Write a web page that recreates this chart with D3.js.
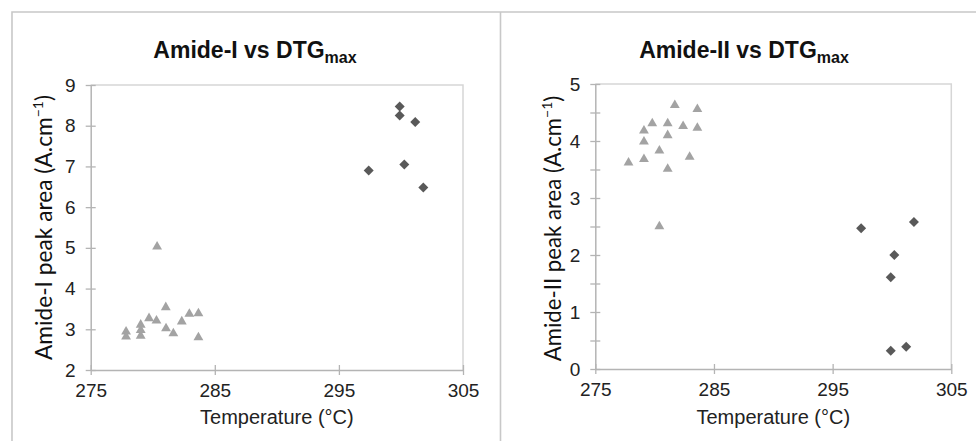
<!DOCTYPE html>
<html>
<head>
<meta charset="utf-8">
<script src="https://cdn.jsdelivr.net/npm/d3@7"></script>
<style>
  html, body { margin: 0; padding: 0; background: #fff; }
  svg { display: block; }
</style>
</head>
<body>
<div id="chart"></div>
<script>
const xTicks = [275, 285, 295, 305];

// Amide-I panel
const amideIYTicks = [2, 3, 4, 5, 6, 7, 8, 9];
const amideITriTemp = [277.85, 277.85, 279.03, 279.03, 279.03, 279.7, 280.3, 280.35, 281.05, 281.07, 281.66, 282.34, 282.95, 283.68, 283.68];
const amideITriArea = [2.94, 2.82, 3.11, 2.98, 2.84, 3.27, 3.21, 5.03, 3.54, 3.02, 2.9, 3.19, 3.38, 3.39, 2.8];
const amideIDiaTemp = [297.4, 299.9, 299.9, 301.15, 300.27, 301.8];
const amideIDiaArea = [6.9, 8.47, 8.25, 8.09, 7.05, 6.48];

// Amide-II panel
const amideIIYTicks = [0, 1, 2, 3, 4, 5];
const amideIIMinorTicks = [0.5, 1.5, 2.5, 3.5, 4.5];
const amideIITriTemp = [277.8, 279.1, 279.1, 279.1, 279.8, 280.4, 280.4, 281.1, 281.1, 281.1, 281.7, 282.4, 282.95, 283.6, 283.6];
const amideIITriArea = [3.62, 3.68, 3.99, 4.18, 4.31, 3.83, 2.5, 4.31, 4.1, 3.51, 4.63, 4.26, 3.72, 4.56, 4.23];
const amideIIDiaTemp = [297.4, 301.85, 300.2, 299.9, 299.9, 301.2];
const amideIIDiaArea = [2.47, 2.58, 2.0, 1.61, 0.32, 0.39];

const W = 976, H = 441;
const axisCol = '#b4b4b4', frameCol = '#d6d6d6', textCol = '#222';
const triCol = '#a3a3a3', diaCol = '#595959';
const sansFont = '"Liberation Sans", Arial, sans-serif';

const svg = d3.select('#chart').append('svg').attr('width', W).attr('height', H);

// outer panel frame + divider
svg.append('path')
  .attr('d', `M12,${H}V12H${W} M500.5,12V${H}`)
  .attr('fill', 'none').attr('stroke', '#c8c8c8').attr('stroke-width', 1.6);

const panels = [
  { title: 'Amide-I vs DTG', ylab: 'Amide-I peak area (A.cm', yDomain: [2, 9], yTicks: amideIYTicks, minor: [],
    triT: amideITriTemp, triA: amideITriArea, diaT: amideIDiaTemp, diaA: amideIDiaArea,
    box: { l: 90.7, r: 463, t: 85, b: 370 }, titleX: 255, ylabX: 52, ylabY: 227.5 },
  { title: 'Amide-II vs DTG', ylab: 'Amide-II peak area (A.cm', yDomain: [0, 5], yTicks: amideIIYTicks, minor: amideIIMinorTicks,
    triT: amideIITriTemp, triA: amideIITriArea, diaT: amideIIDiaTemp, diaA: amideIIDiaArea,
    box: { l: 595.3, r: 951.3, t: 84, b: 369 }, titleX: 744, ylabX: 561, ylabY: 228.5 }
];

panels.forEach(p => {
  const { l, r, t, b } = p.box;
  const x = d3.scaleLinear().domain([275, 305]).range([l, r]);
  const y = d3.scaleLinear().domain(p.yDomain).range([b, t]);

  // plot area top/right border
  svg.append('path').attr('d', `M${l},${t}H${r}V${b}`)
    .attr('fill', 'none').attr('stroke', frameCol).attr('stroke-width', 1.5);

  // y axis (ticks cross the axis line)
  const yg = svg.append('g').attr('transform', `translate(${l},0)`)
    .call(d3.axisLeft(y).tickValues(p.yTicks.concat(p.minor)).tickSize(5).tickSizeOuter(0)
      .tickFormat(d => p.yTicks.includes(d) ? d : ''));
  // x axis
  const xg = svg.append('g').attr('transform', `translate(0,${b})`)
    .call(d3.axisBottom(x).tickValues(xTicks).tickSize(5).tickSizeOuter(0).tickFormat(d3.format('d')));

  [yg, xg].forEach(g => {
    g.select('.domain').attr('stroke', axisCol).attr('stroke-width', 1.5);
    g.selectAll('.tick line').attr('stroke', axisCol).attr('stroke-width', 1.3);
    g.selectAll('.tick text').attr('fill', textCol).style('font-family', sansFont).style('font-size', '19px');
  });
  yg.selectAll('.tick line').attr('x1', 5).attr('x2', -5);
  yg.selectAll('.tick text').attr('x', -15);
  xg.selectAll('.tick line').attr('y1', -5).attr('y2', 5);
  xg.selectAll('.tick text').attr('y', 14);

  // markers
  const tri = d3.symbol(d3.symbolTriangle, 42);
  svg.append('g').selectAll('path').data(p.triT.map((v, i) => [v, p.triA[i]])).join('path')
    .attr('d', tri).attr('fill', triCol)
    .attr('transform', d => `translate(${x(d[0])},${y(d[1])})`);
  const dia = d3.symbol(d3.symbolSquare, 50);
  svg.append('g').selectAll('path').data(p.diaT.map((v, i) => [v, p.diaA[i]])).join('path')
    .attr('d', dia).attr('fill', diaCol)
    .attr('transform', d => `translate(${x(d[0])},${y(d[1])}) rotate(45)`);

  // title
  const tt = svg.append('text').attr('x', p.titleX).attr('y', 58).attr('text-anchor', 'middle')
    .attr('fill', '#111').style('font-family', sansFont).style('font-weight', 'bold').style('font-size', '23px');
  tt.append('tspan').text(p.title);
  tt.append('tspan').attr('dy', 5).style('font-size', '16px').text('max');

  // x label
  svg.append('text').attr('x', (l + r) / 2).attr('y', 424).attr('text-anchor', 'middle')
    .attr('fill', textCol).style('font-family', sansFont).style('font-size', '20px')
    .text('Temperature (°C)');

  // y label, sized so it spans ~265px like the original
  const yl = svg.append('text')
    .attr('transform', `translate(${p.ylabX},${p.ylabY}) rotate(-90)`)
    .attr('text-anchor', 'middle').attr('fill', '#111')
    .style('font-family', 'Lato, "Open Sans", sans-serif').style('font-size', '23px');
  yl.append('tspan').text(p.ylab);
  yl.append('tspan').attr('dy', -9).style('font-size', '14px').text('−1');
  yl.append('tspan').attr('dy', 9).text(')');
  const len = yl.node().getComputedTextLength();
  yl.style('font-size', (23 * 265 / len).toFixed(2) + 'px');
});
</script>
</body>
</html>
